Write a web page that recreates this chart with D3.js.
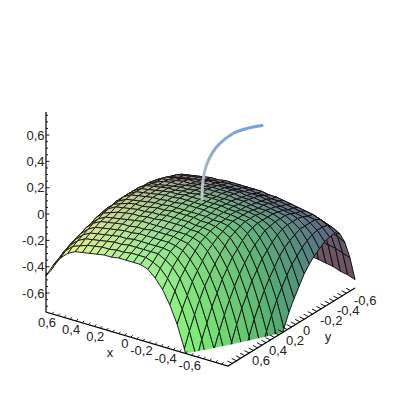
<!DOCTYPE html>
<html><head><meta charset="utf-8"><style>html,body{margin:0;background:#fff}svg{display:block}text{font-family:"Liberation Sans",Arial,sans-serif;font-size:13px;fill:#222}</style>
<script src="https://cdn.jsdelivr.net/npm/d3@7"></script></head><body><svg id="c" width="400" height="400"></svg>
<script>
// Grid coordinates of the mesh (26 lines each way)
const gridX=[-0.75,-0.69,-0.63,-0.57,-0.51,-0.45,-0.39,-0.33,-0.27,-0.21,-0.15,-0.09,-0.03,0.03,0.09,0.15,0.21,0.27,0.33,0.39,0.45,0.51,0.57,0.63,0.69,0.75];
const gridY=gridX.slice();
// Height of the surface below z=0 in hundredths; one row per gridY value, one column per gridX value
const zBelow=[
[68,66,65,63,62,61,60,59,58,58,57,57,57,57,57,57,58,58,59,60,61,62,65,70,77,87],
[49,47,45,44,43,41,40,40,39,38,38,38,37,37,38,38,38,39,40,40,41,43,45,50,58,68],
[35,32,31,29,28,27,26,25,24,24,23,23,23,23,23,23,24,24,25,26,27,28,31,36,43,53],
[26,23,21,19,18,17,16,15,14,14,13,13,13,13,13,13,14,14,15,16,17,18,21,26,33,43],
[23,19,16,14,13,12,11,10,9,9,8,8,8,8,8,8,9,9,10,11,12,13,16,21,28,38],
[24,18,14,13,11,10,9,8,8,7,7,6,6,6,6,7,7,8,8,9,10,11,14,19,27,36],
[25,18,14,11,10,9,8,7,6,5,5,5,5,5,5,5,5,6,7,8,9,10,13,18,25,35],
[28,19,14,10,8,7,6,5,5,4,4,3,3,3,3,4,4,5,5,6,7,8,11,16,24,34],
[31,21,14,10,7,6,5,4,4,3,3,2,2,2,2,3,3,4,4,5,6,7,10,15,23,32],
[35,24,16,10,7,5,4,4,3,2,2,1,1,1,1,2,2,3,4,4,5,7,9,14,22,32],
[40,28,18,11,7,5,4,3,2,2,1,1,1,1,1,1,2,2,3,4,5,6,9,14,21,31],
[47,32,21,13,8,5,3,2,2,1,1,0,0,0,0,1,1,2,2,3,4,5,8,13,21,30],
[54,38,25,16,9,5,3,2,1,1,0,0,0,0,0,0,1,1,2,3,4,5,8,13,21,30],
[62,45,31,20,12,6,3,2,1,1,0,0,0,0,0,0,1,1,2,3,4,5,8,13,21,30],
[72,52,37,24,15,8,4,2,2,1,1,0,0,0,0,1,1,2,2,3,4,5,8,13,21,30],
[83,61,44,30,19,11,6,3,2,2,1,1,1,1,1,1,2,2,3,4,5,6,9,14,21,31],
[95,71,52,36,24,15,8,5,3,2,2,1,1,1,1,2,2,3,4,4,5,7,9,14,22,32],
[99,82,61,44,30,19,12,7,4,3,3,2,2,2,2,3,3,4,4,5,6,7,10,15,23,32],
[99,95,72,52,37,25,16,10,6,4,4,3,3,3,3,4,4,5,5,6,7,9,11,16,24,34],
[99,99,83,62,45,31,21,13,8,6,5,5,5,5,5,5,5,6,7,8,9,10,13,18,25,35],
[99,99,96,73,54,39,27,18,12,8,7,6,6,6,6,7,7,8,8,9,10,11,14,19,27,36],
[99,99,99,85,64,47,33,23,16,11,9,8,8,8,8,8,9,9,10,11,12,13,16,21,28,38],
[99,99,99,98,75,57,41,29,21,15,11,10,10,10,10,10,11,11,12,13,14,15,18,23,30,40],
[99,99,99,99,88,67,50,37,26,19,15,12,12,12,12,12,13,13,14,15,16,17,20,25,32,42],
[99,99,99,99,99,79,60,45,33,25,19,16,14,14,14,15,15,16,16,17,18,20,22,27,35,45],
[99,99,99,99,99,92,71,54,41,31,24,19,17,17,17,17,18,18,19,20,21,22,25,30,37,47]
];
// Curve rising from the surface
const curveX=[-0.008,-0.014,-0.031,-0.064,-0.108,-0.181,-0.258,-0.342];
const curveY=[-0.006,-0.010,-0.021,-0.044,-0.075,-0.125,-0.179,-0.237];
const curveZ=[0.021,0.165,0.271,0.370,0.445,0.521,0.559,0.582];
// Ticks
const zTicks=[0.6,0.4,0.2,0,-0.2,-0.4,-0.6];
const xTicks=[0.6,0.4,0.2,0,-0.2,-0.4,-0.6];
const yTicks=[0.6,0.4,0.2,0,-0.2,-0.4,-0.6];
const tickLabels=["0,6","0,4","0,2","0","-0,2","-0,4","-0,6"];
const minorTicks=d3.range(-14,15).map(k=>k*0.05);
// Surface colours at gridX stops (rows) and gridY stops (columns)
const colorX=[-0.75,0,0.75];
const colorY=[-0.75,-0.4,0,0.75];
const colorTable=[
["#6e5060","#5a7086","#4f9a78","#66f05c"],
["#6e5a68","#7a7f8e","#84c08c","#a8f09a"],
["#d0a0a8","#d6a8ac","#dcc0a4","#f4f48c"]];

const zFloor=-0.744;
const svg=d3.select("#c");
const xToX=d3.scaleLinear().domain([-0.75,0.75]).range([91,-91]);
const yToX=d3.scaleLinear().domain([-0.75,0.75]).range([63.5,-63.5]);
const xToY=d3.scaleLinear().domain([-0.75,0.75]).range([27,-27]);
const yToY=d3.scaleLinear().domain([-0.75,0.75]).range([-39,39]);
const zToY=d3.scaleLinear().domain([zFloor,0.775]).range([0,-200]);
const PX=(x,y)=>200.5+xToX(x)+yToX(y);
const PY=(x,y,z)=>300+xToY(x)+yToY(y)+zToY(z);
const pt=p=>[PX(p[0],p[1]),PY(p[0],p[1],p[2])];
const cu=d3.scaleLinear().domain(colorX).range([0,1,2]);
const cv=d3.scaleLinear().domain(colorY).range([0,1,2,3]);
function color(x,y){const a=cu(x),b=cv(y),i=Math.min(1,Math.floor(a)),j=Math.min(2,Math.floor(b));
 const m1=d3.interpolateRgb(colorTable[i][j],colorTable[i][j+1])(b-j),m2=d3.interpolateRgb(colorTable[i+1][j],colorTable[i+1][j+1])(b-j);
 return d3.interpolateRgb(m1,m2)(a-i);}
function clipFloor(poly,closed){const o=[],n=poly.length;for(let i=0;i<(closed?n:n-1);i++){const p=poly[i],q=poly[(i+1)%n];
 if(p[2]>=zFloor)o.push(p);
 if((p[2]>=zFloor)!==(q[2]>=zFloor)){const t=(zFloor-p[2])/(q[2]-p[2]);o.push([p[0]+t*(q[0]-p[0]),p[1]+t*(q[1]-p[1]),zFloor]);}}
 if(!closed&&poly[n-1][2]>=zFloor)o.push(poly[n-1]);
 return o;}
const zAt=(j,i)=>-zBelow[j][i]/100;
const cells=[];
d3.range(gridY.length-1).forEach(j=>d3.range(gridX.length-1).forEach(i=>{
 const q=[[gridX[i],gridY[j],zAt(j,i)],[gridX[i+1],gridY[j],zAt(j,i+1)],[gridX[i+1],gridY[j+1],zAt(j+1,i+1)],[gridX[i],gridY[j+1],zAt(j+1,i)]];
 const mx=d3.mean(q,d=>d[0]),my=d3.mean(q,d=>d[1]),mz=d3.mean(q,d=>d[2]);
 cells.push({q,mx,my,depth:-mx+1.432*my+0.83*mz});}));
cells.sort((a,b)=>d3.ascending(a.depth,b.depth));
const line=d3.line();
const gS=svg.append("g");
cells.forEach(c=>{const cl=clipFloor(c.q,true);if(cl.length<3)return;
 const col=color(c.mx,c.my);
 gS.append("path").attr("d",line(cl.map(pt))+"Z").attr("fill",col).attr("stroke",col).attr("stroke-width",0.4);
 const segs=[];for(let k=0;k<4;k++){const s=clipFloor([c.q[k],c.q[(k+1)%4]],false);if(s.length>=2)segs.push(line(s.map(pt)));}
 gS.append("path").attr("d",segs.join("")).attr("fill","none").attr("stroke","#000").attr("stroke-width",0.85);
});
// Curve
const pts=curveX.map((x,i)=>pt([x,curveY[i],curveZ[i]]));
const grad=svg.append("defs").append("linearGradient").attr("id","cg").attr("gradientUnits","userSpaceOnUse")
 .attr("x1",pts[0][0]).attr("y1",pts[0][1]).attr("x2",pts[pts.length-1][0]).attr("y2",pts[pts.length-1][1]);
grad.append("stop").attr("offset",0).attr("stop-color","#c4c4c6");
grad.append("stop").attr("offset",0.45).attr("stop-color","#93aacb");
grad.append("stop").attr("offset",1).attr("stop-color","#6ea0e6");
svg.append("path").attr("d",d3.line().curve(d3.curveCatmullRom)(pts)).attr("fill","none").attr("stroke","url(#cg)").attr("stroke-width",3).attr("stroke-linecap","round");
// Axes
const ax=svg.append("g").attr("stroke","#000").attr("fill","none");
const axisY=d3.scaleLinear().domain([zFloor,0.775]).range([312,112]);
const c1=[46,312],c2=[228,366],c3=[355,288];
ax.append("path").attr("d",line([[c1[0],axisY(0.775)],c1,c2,c3])).attr("stroke-width",1.2);
const xAlong=v=>{const t=(0.75-v)/1.5;return [c1[0]+t*(c2[0]-c1[0]),c1[1]+t*(c2[1]-c1[1])];};
const yAlong=v=>{const t=(0.75-v)/1.5;return [c2[0]+t*(c3[0]-c2[0]),c2[1]+t*(c3[1]-c2[1])];};
ax.append("g").selectAll("line").data(minorTicks.concat([0.75])).join("line")
 .attr("x1",46).attr("x2",d=>zTicks.some(t=>Math.abs(t-d)<1e-6)?49.5:48).attr("y1",d=>axisY(d)).attr("y2",d=>axisY(d)).attr("stroke-width",0.9);
ax.append("g").selectAll("line").data(minorTicks).join("line")
 .attr("x1",d=>xAlong(d)[0]).attr("y1",d=>xAlong(d)[1]).attr("x2",d=>xAlong(d)[0]+1.7).attr("y2",d=>xAlong(d)[1]-2).attr("stroke-width",0.9);
ax.append("g").selectAll("line").data(minorTicks).join("line")
 .attr("x1",d=>yAlong(d)[0]).attr("y1",d=>yAlong(d)[1]).attr("x2",d=>yAlong(d)[0]-4.8).attr("y2",d=>yAlong(d)[1]-2.4).attr("stroke-width",0.9);
// Labels
const zLabY=d3.scaleLinear().domain([0.6,-0.6]).range([135,293]);
svg.append("g").selectAll("text").data(zTicks).join("text").attr("x",44.5).attr("y",d=>zLabY(d)).attr("dy","0.36em").attr("text-anchor","end").text((d,i)=>tickLabels[i]);
const xLabX=d3.scaleLinear().domain([0.6,-0.6]).range([56,201]),xLabY=d3.scaleLinear().domain([0.6,-0.6]).range([322,365]);
svg.append("g").selectAll("text").data(xTicks).join("text").attr("x",d=>xLabX(d)).attr("y",d=>xLabY(d)).attr("dy","0.36em").attr("text-anchor","end").text((d,i)=>tickLabels[i]);
const yLabX=d3.scaleLinear().domain([0.6,-0.6]).range([252,354]),yLabY=d3.scaleLinear().domain([0.6,-0.6]).range([360,300]);
svg.append("g").selectAll("text").data(yTicks).join("text").attr("x",d=>yLabX(d)).attr("y",d=>yLabY(d)).attr("dy","0.36em").attr("text-anchor","start").text((d,i)=>tickLabels[i]);
svg.append("text").attr("x",110).attr("y",353).attr("dy","0.3em").attr("text-anchor","middle").text("x");
svg.append("text").attr("x",328).attr("y",337).attr("dy","0.3em").attr("text-anchor","middle").text("y");
</script></body></html>
